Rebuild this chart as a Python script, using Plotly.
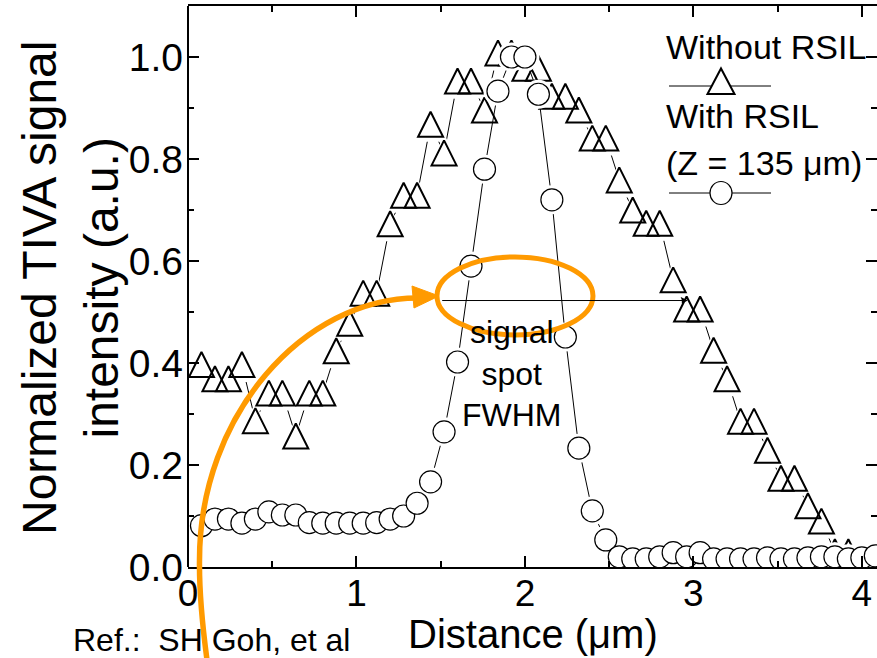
import plotly.graph_objects as go

# ---------------- data ----------------
# Scan position across the spot (um)
dist_without = [0.08, 0.16, 0.24, 0.32, 0.40, 0.48, 0.56, 0.64, 0.72, 0.80,
                0.88, 0.96, 1.04, 1.12, 1.20, 1.28, 1.36, 1.44, 1.52, 1.60,
                1.68, 1.76, 1.84, 1.92, 2.00, 2.08, 2.16, 2.24, 2.32, 2.40,
                2.48, 2.56, 2.64, 2.72, 2.80, 2.88, 2.96, 3.04, 3.12, 3.20,
                3.28, 3.36, 3.44, 3.52, 3.60, 3.68, 3.76, 3.84, 3.92]
# Normalized TIVA signal without RSIL
sig_without = [0.397, 0.369, 0.369, 0.397, 0.287, 0.341, 0.341, 0.257, 0.341, 0.341,
               0.424, 0.478, 0.537, 0.537, 0.673, 0.729, 0.729, 0.868, 0.812, 0.953,
               0.953, 0.896, 1.008, 1.008, 0.978, 0.978, 0.923, 0.923, 0.896, 0.841,
               0.841, 0.759, 0.700, 0.674, 0.674, 0.563, 0.506, 0.506, 0.425, 0.369,
               0.286, 0.286, 0.229, 0.174, 0.174, 0.120, 0.090, 0.030, 0.030]

dist_with = [0.08, 0.16, 0.24, 0.32, 0.40, 0.48, 0.56, 0.64, 0.72, 0.80,
             0.88, 0.96, 1.04, 1.12, 1.20, 1.28, 1.36, 1.44, 1.52, 1.60,
             1.68, 1.76, 1.84, 1.92, 2.00, 2.08, 2.16, 2.24, 2.32, 2.40,
             2.48, 2.56, 2.64, 2.72, 2.80, 2.88, 2.96, 3.04, 3.12, 3.20,
             3.28, 3.36, 3.44, 3.52, 3.60, 3.68, 3.76, 3.84, 3.92, 4.00, 4.08]
# Normalized TIVA signal with RSIL (Z = 135 um)
sig_with = [0.081, 0.094, 0.094, 0.086, 0.094, 0.108, 0.102, 0.102, 0.087, 0.086,
            0.086, 0.086, 0.086, 0.087, 0.094, 0.100, 0.125, 0.167, 0.265, 0.402,
            0.590, 0.780, 0.933, 1.000, 1.000, 0.927, 0.720, 0.451, 0.233, 0.110,
            0.053, 0.020, 0.016, 0.016, 0.020, 0.028, 0.020, 0.028, 0.016, 0.016,
            0.016, 0.016, 0.018, 0.016, 0.016, 0.018, 0.020, 0.020, 0.016, 0.018, 0.022]

x_ticks = [0, 1, 2, 3, 4]
y_ticks = [0.0, 0.2, 0.4, 0.6, 0.8, 1.0]
y_tick_text = ["0.0", "0.2", "0.4", "0.6", "0.8", "1.0"]

# half-maximum marker of the wide profile
fwhm_level = 0.5225
fwhm_start, fwhm_end = 1.50, 2.967

# ---------------- layout geometry ----------------
W, H = 877, 658
L, R, T, B = 188, 877, 6, 567
X_RANGE = [0, 4.09]
Y_RANGE = [0, 1.1]
FONT = "Liberation Sans, Arial, sans-serif"
ORANGE = "#FF9A00"


def paper(px, py):
    """Page pixel position -> paper coordinates of the plot area."""
    return (px - L) / (R - L), (B - py) / (B - T)


def pt(px, py):
    x, y = paper(px, py)
    return f"{x:.5f},{y:.5f}"


def poly(points):
    """Closed polygon path (paper coordinates) through page pixel points."""
    s = "M " + pt(*points[0])
    for p in points[1:]:
        s += " L " + pt(*p)
    return s + " Z"


fig = go.Figure()

TRI = 25   # triangle marker size (px)
CIR = 22   # circle marker size (px)

# --- without RSIL: connecting line, white gap masks, hollow triangles
fig.add_trace(go.Scatter(x=dist_without, y=sig_without, mode="lines",
                         line=dict(color="black", width=1), hoverinfo="skip"))
fig.add_trace(go.Scatter(x=dist_without, y=sig_without, mode="markers",
                         marker=dict(symbol="arrow-down", angle=180, standoff=(TRI + 10) / 2,
                                     size=TRI + 10, color="white", line=dict(width=0)),
                         hoverinfo="skip"))
fig.add_trace(go.Scatter(x=dist_without, y=sig_without, mode="markers", name="Without RSIL",
                         marker=dict(symbol="arrow-down", angle=180, standoff=TRI / 2,
                                     size=TRI, color="rgba(0,0,0,0)",
                                     line=dict(color="black", width=2))))

# --- with RSIL: connecting line, gap masks, white-filled circles
fig.add_trace(go.Scatter(x=dist_with, y=sig_with, mode="lines",
                         line=dict(color="black", width=1), hoverinfo="skip"))
fig.add_trace(go.Scatter(x=dist_with, y=sig_with, mode="markers",
                         marker=dict(symbol="circle", size=CIR + 7, color="white",
                                     line=dict(width=0)), hoverinfo="skip"))
fig.add_trace(go.Scatter(x=dist_with, y=sig_with, mode="markers", name="With RSIL (Z = 135 μm)",
                         marker=dict(symbol="circle", size=CIR, color="white",
                                     line=dict(color="black", width=1.2))))

# right-hand tick column (frame edge itself lies at the page border)
fig.add_trace(go.Scatter(x=[None], y=[None], yaxis="y2", hoverinfo="skip"))

shapes = []
# left frame edge
shapes.append(dict(type="line", xref="paper", yref="paper", x0=0, x1=0, y0=0, y1=1,
                   line=dict(color="black", width=2)))

# FWHM highlight ellipse
shapes.append(dict(type="circle", xref="x", yref="y", x0=1.478, x1=2.404, y0=0.455, y1=0.608,
                   line=dict(color=ORANGE, width=5)))

# curved pointer arrow rising from below the axis
cx, cy, a, b, k = 433, 560, 234, 263, 0.5523
curve = ("M " + pt(207, 660) +
         " Q " + pt(199, 600) + " " + pt(199.5, cy) +
         " C " + pt(199.5, cy - k * b) + " " + pt(cx - k * a, cy - b + 1) + " " + pt(418, cy - b + 1))
shapes.append(dict(type="path", xref="paper", yref="paper", path=curve,
                   line=dict(color=ORANGE, width=5.5)))
shapes.append(dict(type="path", xref="paper", yref="paper",
                   path=poly([(439, 296), (412, 286), (414, 308)]),
                   fillcolor=ORANGE, line=dict(color=ORANGE, width=1)))

# legend swatches
for ly in (86, 193):
    x0, y0 = paper(669, ly)
    x1, _ = paper(771, ly)
    shapes.append(dict(type="line", xref="paper", yref="paper", x0=x0, x1=x1, y0=y0, y1=y0,
                       line=dict(color="black", width=1)))
shapes.append(dict(type="path", xref="paper", yref="paper",
                   path=poly([(707.5, 94), (734.5, 94), (721, 68.5)]),
                   fillcolor="white", line=dict(color="black", width=2)))
cx0, cy0 = paper(710, 204.5)
cx1, cy1 = paper(732, 181.5)
shapes.append(dict(type="circle", xref="paper", yref="paper", x0=cx0, x1=cx1, y0=cy0, y1=cy1,
                   fillcolor="white", line=dict(color="black", width=1.2)))

annotations = []


def label(text, px, py, size, xanchor="left", angle=0):
    x, y = paper(px, py)
    annotations.append(dict(text=text, x=x, y=y, xref="paper", yref="paper",
                            xanchor=xanchor, yanchor="middle", showarrow=False,
                            textangle=angle, borderpad=0,
                            font=dict(family=FONT, size=size, color="black")))


label("Without RSIL", 665, 47, 34)
label("With RSIL", 665, 116, 34)
label("(Z = 135 μm)", 665, 163, 34)
label("signal<br>spot<br>FWHM", 512, 373, 32, xanchor="center")
label("Distance (μm)", 533, 634, 40, xanchor="center")
label("Ref.:\u00a0\u00a0SH Goh, et al", 72, 640, 32)
label("Normalized TIVA signal<br>intensity (a.u.)", 70, 288, 48, xanchor="center", angle=-90)

# half-maximum arrow
annotations.append(dict(x=fwhm_end, y=fwhm_level, ax=fwhm_start, ay=fwhm_level,
                        xref="x", yref="y", axref="x", ayref="y", text="",
                        showarrow=True, arrowhead=2, arrowsize=1.2, arrowwidth=1,
                        arrowcolor="black", standoff=0, startstandoff=0))

tick_common = dict(ticks="inside", ticklen=11, tickwidth=2, tickcolor="black",
                   showgrid=False, zeroline=False)

fig.update_layout(
    width=W, height=H,
    margin=dict(l=L, r=W - R, t=T, b=H - B, pad=0),
    paper_bgcolor="white", plot_bgcolor="white",
    showlegend=False,
    font=dict(family=FONT, size=39, color="black"),
    shapes=shapes, annotations=annotations,
    xaxis=dict(range=X_RANGE, tickvals=x_ticks, showline=True, linewidth=2, linecolor="black",
               mirror="ticks",
               minor=dict(dtick=0.5, ticks="inside", ticklen=6, tickwidth=2, tickcolor="black"),
               ticklabelstandoff=-7, tickfont=dict(size=37), **tick_common),
    yaxis=dict(range=Y_RANGE, tickvals=y_ticks, ticktext=y_tick_text, showline=False,
               minor=dict(dtick=0.1, ticks="inside", ticklen=6, tickwidth=2, tickcolor="black"),
               ticklabelstandoff=4, tickfont=dict(size=39), **tick_common),
    yaxis2=dict(range=Y_RANGE, tickvals=y_ticks, overlaying="y", side="right", anchor="x",
                showline=False, showticklabels=False,
                minor=dict(dtick=0.1, ticks="inside", ticklen=6, tickwidth=2, tickcolor="black"),
                **tick_common),
)

fig.write_html("out.html")
